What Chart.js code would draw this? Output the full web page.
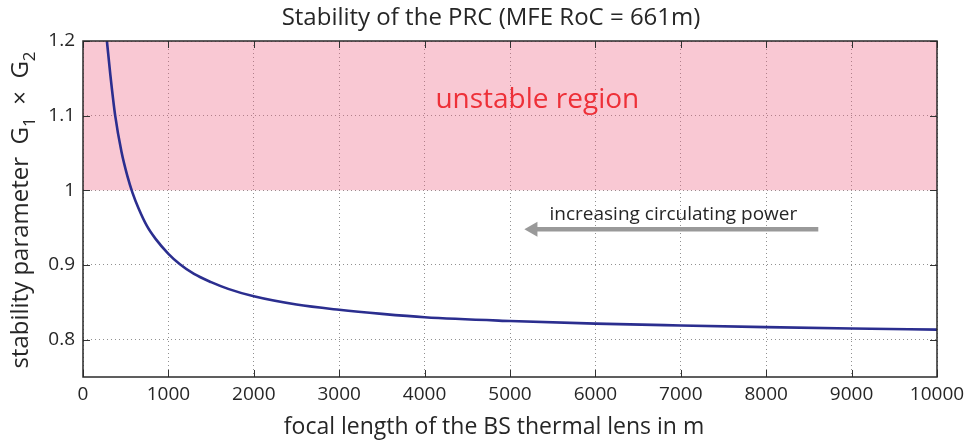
<!DOCTYPE html>
<html>
<head>
<meta charset="utf-8">
<script src="https://cdn.jsdelivr.net/npm/chart.js@4.4.0/dist/chart.umd.min.js"></script>
<style>
  html, body { margin: 0; padding: 0; background: #fff; }
  #wrap { width: 977px; height: 445px; }
</style>
</head>
<body>
<div id="wrap"><canvas id="chart" width="977" height="445"></canvas></div>
<script>
const FONT = '"Open Sans", "Noto Sans", sans-serif';
const INK = '#262626';

// axis ticks
const xTicks = [0, 1000, 2000, 3000, 4000, 5000, 6000, 7000, 8000, 9000, 10000];
const yTicks = [0.8, 0.9, 1, 1.1, 1.2];

// stability curve
const focalLength = [280, 320, 377, 450, 520, 579, 650, 750, 850, 1000, 1135, 1300, 1500, 1700, 2000, 2500, 3000, 3500, 4000, 5000, 6000, 7000, 8000, 9000, 10000];
const stabilityG = [1.2, 1.155, 1.1, 1.052, 1.019, 0.997, 0.976, 0.952, 0.935, 0.915, 0.901, 0.888, 0.877, 0.868, 0.858, 0.847, 0.840, 0.8345, 0.8300, 0.8250, 0.8215, 0.8190, 0.8168, 0.8150, 0.8135];

// unstable band (G1*G2 > 1)
const unstableX = [0, 10000];
const unstableTop = [1.2, 1.2];
const unstableFrom = 1;

// arrow "increasing circulating power"
const arrowX = [5270, 8610];
const arrowY = [0.948, 0.948];

const TITLE = 'Stability of the PRC (MFE RoC = 661m)';
const X_TITLE = 'focal length of the BS thermal lens in m';

const framePlugin = {
  id: 'frame',
  afterDraw(chart) {
    const { ctx, chartArea: a, scales: { x, y } } = chart;
    ctx.save();

    // inward ticks on all four sides
    ctx.strokeStyle = '#333';
    ctx.lineWidth = 1;
    ctx.beginPath();
    xTicks.forEach(v => {
      const px = Math.round(x.getPixelForValue(v)) + 0.5;
      ctx.moveTo(px, a.bottom); ctx.lineTo(px, a.bottom - 7);
      ctx.moveTo(px, a.top); ctx.lineTo(px, a.top + 7);
    });
    yTicks.forEach(v => {
      const py = Math.round(y.getPixelForValue(v)) + 0.5;
      ctx.moveTo(a.left, py); ctx.lineTo(a.left + 7, py);
      ctx.moveTo(a.right, py); ctx.lineTo(a.right - 7, py);
    });
    ctx.stroke();

    // box
    ctx.strokeStyle = '#2a2a2a';
    ctx.lineWidth = 1.5;
    ctx.strokeRect(a.left, a.top, a.right - a.left, a.bottom - a.top);

    // annotations
    ctx.textAlign = 'center';
    ctx.textBaseline = 'alphabetic';
    ctx.fillStyle = '#EE3038';
    ctx.font = '28px ' + FONT;
    ctx.fillText('unstable region', x.getPixelForValue(5320), y.getPixelForValue(1.110));

    ctx.fillStyle = INK;
    ctx.font = '19px ' + FONT;
    ctx.fillText('increasing circulating power', x.getPixelForValue(6913), y.getPixelForValue(0.960));

    // titles
    ctx.font = '24px ' + FONT;
    ctx.fillText(TITLE, 491, 25);
    ctx.font = '23px ' + FONT;
    ctx.fillText(X_TITLE, 494, 434);

    // y title with subscripts
    ctx.translate(28, 210);
    ctx.rotate(-Math.PI / 2);
    const parts = [
      ['stability parameter  G', 24, 0],
      ['1', 17, 7],
      ['  \u00d7  G', 24, 0],
      ['2', 17, 7]
    ];
    let total = 0;
    parts.forEach(p => { ctx.font = p[1] + 'px ' + FONT; total += ctx.measureText(p[0]).width; });
    let cx = -total / 2;
    ctx.textAlign = 'left';
    parts.forEach(p => {
      ctx.font = p[1] + 'px ' + FONT;
      ctx.fillText(p[0], cx, p[2]);
      cx += ctx.measureText(p[0]).width;
    });
    ctx.restore();
  }
};

new Chart(document.getElementById('chart'), {
  type: 'line',
  data: {
    datasets: [
      {
        label: 'G1 x G2',
        data: focalLength.map((f, i) => ({ x: f, y: stabilityG[i] })),
        borderColor: '#2B2E8F', borderWidth: 2.6,
        pointRadius: 0, cubicInterpolationMode: 'monotone',
        fill: false, clip: 0, order: 1
      },
      {
        label: 'arrow',
        data: arrowX.map((f, i) => ({ x: f, y: arrowY[i] })),
        borderColor: '#999999', borderWidth: 4.5, borderCapStyle: 'butt',
        pointRadius: [8.7, 0], pointStyle: 'triangle', pointRotation: 270,
        pointBackgroundColor: '#999999', pointBorderWidth: 0,
        fill: false, order: 2
      },
      {
        label: 'unstable',
        data: unstableX.map((f, i) => ({ x: f, y: unstableTop[i] })),
        borderWidth: 0, pointRadius: 0,
        fill: { value: unstableFrom },
        backgroundColor: 'rgba(238, 98, 129, 0.35)',
        order: 3
      }
    ]
  },
  options: {
    responsive: false, animation: false, devicePixelRatio: 1,
    layout: { padding: { left: 0, right: 40, top: 41, bottom: 0 } },
    plugins: { legend: { display: false }, tooltip: { enabled: false } },
    scales: {
      x: {
        type: 'linear', min: 0, max: 10000,
        afterBuildTicks: s => { s.ticks = xTicks.map(v => ({ value: v })); },
        afterFit: s => { s.height = 68; },
        grid: { color: 'rgba(70,70,70,0.6)', lineWidth: 1, drawTicks: false },
        border: { display: false, dash: [1, 3] },
        ticks: { color: INK, font: { family: FONT, size: 19 }, padding: 6, maxRotation: 0, autoSkip: false, callback: v => String(v) }
      },
      y: {
        type: 'linear', min: 0.75, max: 1.2,
        afterBuildTicks: s => { s.ticks = yTicks.map(v => ({ value: v })); },
        afterFit: s => { s.width = 83; },
        grid: { color: 'rgba(70,70,70,0.6)', lineWidth: 1, drawTicks: false },
        border: { display: false, dash: [1, 3] },
        ticks: { color: INK, font: { family: FONT, size: 19 }, padding: 8, callback: v => String(+v.toFixed(2)) }
      }
    }
  },
  plugins: [framePlugin]
});
</script>
</body>
</html>
